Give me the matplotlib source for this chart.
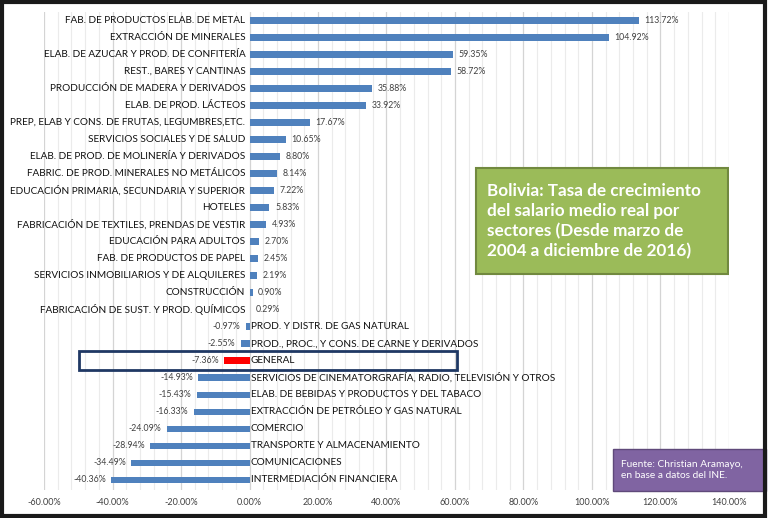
import matplotlib
matplotlib.use("Agg")
from matplotlib import pyplot as plt
from matplotlib.patches import Rectangle
from matplotlib.ticker import MultipleLocator, FuncFormatter

plt.rcParams['font.family'] = ['Lato', 'DejaVu Sans']

SECTORS = [
    "FAB. DE PRODUCTOS ELAB. DE METAL",
    "EXTRACCIÓN DE MINERALES",
    "ELAB. DE AZUCAR Y PROD. DE CONFITERÍA",
    "REST., BARES Y CANTINAS",
    "PRODUCCIÓN DE MADERA Y DERIVADOS",
    "ELAB. DE PROD. LÁCTEOS",
    "PREP, ELAB Y CONS. DE FRUTAS, LEGUMBRES,ETC.",
    "SERVICIOS SOCIALES Y DE SALUD",
    "ELAB. DE PROD. DE MOLINERÍA Y DERIVADOS",
    "FABRIC. DE PROD. MINERALES NO METÁLICOS",
    "EDUCACIÓN PRIMARIA, SECUNDARIA Y SUPERIOR",
    "HOTELES",
    "FABRICACIÓN DE TEXTILES, PRENDAS DE VESTIR",
    "EDUCACIÓN PARA ADULTOS",
    "FAB. DE PRODUCTOS DE PAPEL",
    "SERVICIOS INMOBILIARIOS Y DE ALQUILERES",
    "CONSTRUCCIÓN",
    "FABRICACIÓN DE SUST. Y PROD. QUÍMICOS",
    "PROD. Y DISTR. DE GAS NATURAL",
    "PROD., PROC., Y CONS. DE CARNE Y DERIVADOS",
    "GENERAL",
    "SERVICIOS DE CINEMATORGRAFÍA, RADIO, TELEVISIÓN Y OTROS",
    "ELAB. DE BEBIDAS Y PRODUCTOS Y DEL TABACO",
    "EXTRACCIÓN DE PETRÓLEO Y GAS NATURAL",
    "COMERCIO",
    "TRANSPORTE Y ALMACENAMIENTO",
    "COMUNICACIONES",
    "INTERMEDIACIÓN FINANCIERA",
]
GROWTH = [113.72, 104.92, 59.35, 58.72, 35.88, 33.92, 17.67, 10.65, 8.80, 8.14,
          7.22, 5.83, 4.93, 2.70, 2.45, 2.19, 0.90, 0.29, -0.97, -2.55,
          -7.36, -14.93, -15.43, -16.33, -24.09, -28.94, -34.49, -40.36]
HIGHLIGHT = "GENERAL"

TITLE = "Bolivia: Tasa de crecimiento\ndel salario medio real por\nsectores (Desde marzo de\n2004 a diciembre de 2016)"
SOURCE = "Fuente: Christian Aramayo,\nen base a datos del INE."

BLUE = "#4F81BD"
RED = "#FF0000"

fig = plt.figure(figsize=(7.68, 5.18), dpi=100)
ax = fig.add_axes([0.0573, 0.054, 0.8919, 0.923])

rows = list(range(len(SECTORS)))
colors = [RED if s == HIGHLIGHT else BLUE for s in SECTORS]
ax.barh(rows, GROWTH, height=0.38, color=colors, zorder=3)

ax.set_xlim(-60, 140)
ax.set_ylim(27.6, -0.5)
ax.xaxis.set_major_locator(MultipleLocator(20))
ax.xaxis.set_minor_locator(MultipleLocator(4))
ax.xaxis.set_major_formatter(FuncFormatter(lambda v, p: f"{v:.2f}%"))
ax.grid(which='major', axis='x', color='#D4D4D4', lw=0.9, zorder=0)
ax.grid(which='minor', axis='x', color='#EBEBEB', lw=0.8, zorder=0)
ax.set_yticks([])
ax.tick_params(axis='x', which='both', length=0, labelsize=6.5, labelcolor='#404040', pad=6)
for s in ax.spines.values():
    s.set_visible(False)

for r, name, v in zip(rows, SECTORS, GROWTH):
    if v >= 0:
        ax.annotate(name, (0, r), xytext=(-3, 0), textcoords='offset points',
                    ha='right', va='center', fontsize=7.2, color='#111111', zorder=4)
        ax.annotate(f"{v:.2f}%", (v, r), xytext=(4, 0), textcoords='offset points',
                    ha='left', va='center', fontsize=6.3, color='#404040', zorder=4)
    else:
        ax.annotate(name, (0, r), xytext=(1, 0), textcoords='offset points',
                    ha='left', va='center', fontsize=7.2, color='#111111', zorder=4)
        ax.annotate(f"{v:.2f}%", (v, r), xytext=(-4, 0), textcoords='offset points',
                    ha='right', va='center', fontsize=6.3, color='#404040', zorder=4)

# frame around the GENERAL row
g = SECTORS.index(HIGHLIGHT)
ax.add_patch(Rectangle((-49.8, g - 0.55), 110.4, 1.1, fill=False,
                       edgecolor='#1F3864', lw=2, zorder=5))

# title box
ax.add_patch(Rectangle((66.1, 8.7), 73.6, 6.2, facecolor='#9BBB59',
                       edgecolor='#71893F', lw=1.5, zorder=6))
ax.text(69.2, 11.8, TITLE, ha='left', va='center', fontsize=12.3, fontweight='bold',
        color='white', linespacing=1.3, zorder=7)

# source box
fig.patches.append(Rectangle((0.798, 0.052), 0.2, 0.081, transform=fig.transFigure,
                             facecolor='#8064A2', edgecolor='#5F497A', lw=1, zorder=6))
fig.text(0.808, 0.0925, SOURCE, ha='left', va='center', fontsize=7.3, color='white',
         linespacing=1.4, zorder=7)

# outer border
fig.patches.append(Rectangle((0.002, 0.003), 0.994, 0.994, transform=fig.transFigure,
                             fill=False, edgecolor='#1a1a1a', lw=3, zorder=10))

fig.savefig("out.png", dpi=100)
